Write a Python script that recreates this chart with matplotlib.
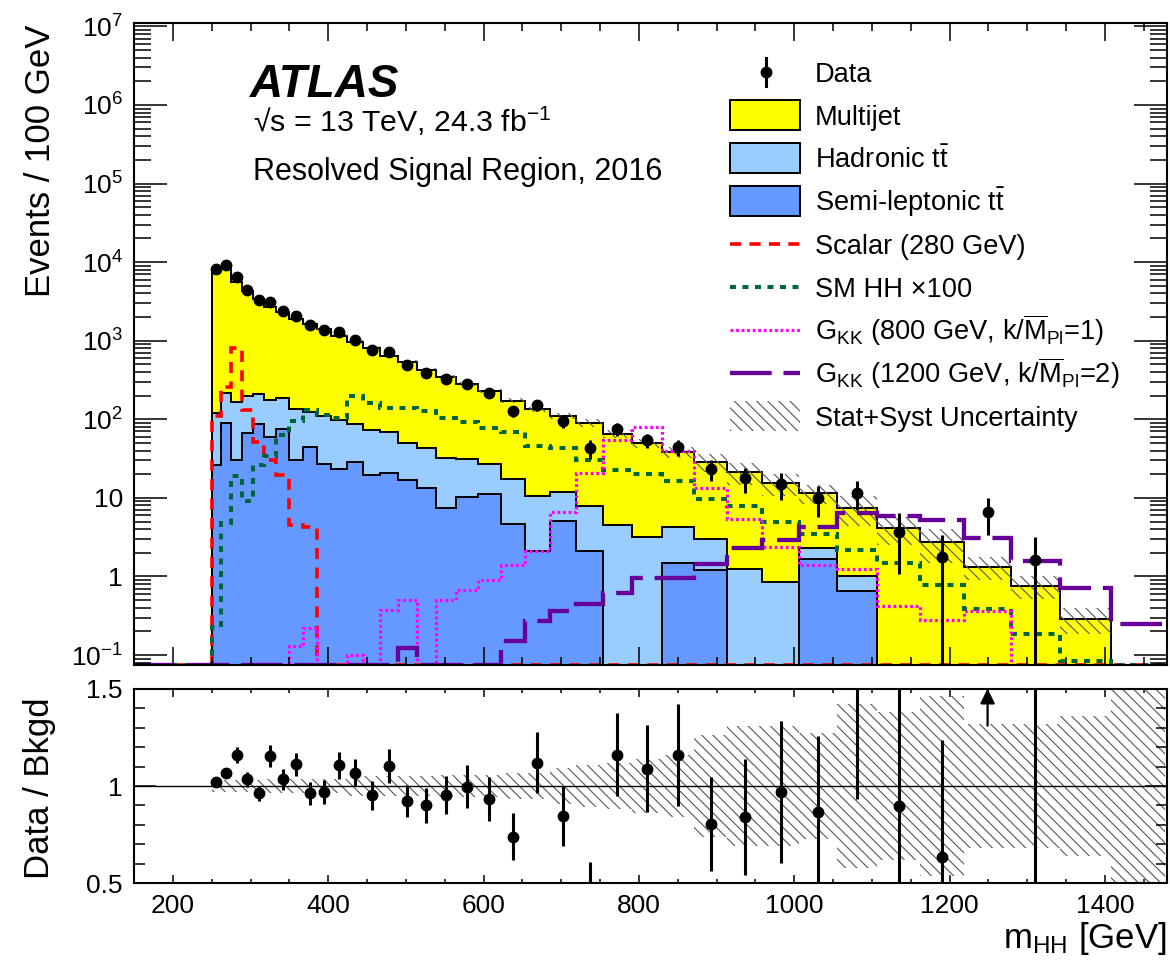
import matplotlib
matplotlib.use("Agg")
import matplotlib.pyplot as plt
import numpy as np
from matplotlib.lines import Line2D
from matplotlib.patches import Rectangle
from matplotlib.ticker import (FixedLocator, FixedFormatter, FuncFormatter,
                               LogLocator, MultipleLocator, NullFormatter)

plt.rcParams['font.family'] = ['Liberation Sans', 'DejaVu Sans']
plt.rcParams['mathtext.fontset'] = 'custom'
plt.rcParams['mathtext.rm'] = 'Liberation Sans'
plt.rcParams['mathtext.it'] = 'Liberation Sans:italic'
plt.rcParams['mathtext.bf'] = 'Liberation Sans:bold'
plt.rcParams['lines.scale_dashes'] = False
plt.rcParams['hatch.linewidth'] = 0.85

# ---- data ----
bin_edges = [250, 262, 275, 289, 303, 318, 333, 350, 367, 385, 404, 424, 445, 467,
             490, 514, 539, 565, 593, 622, 653, 685, 719, 754, 791, 830, 871, 914,
             959, 1006, 1055, 1107, 1162, 1219, 1279, 1342, 1408, 1477]

data = [8150, 9250, 6560, 4450, 3310, 3100, 2400, 2090, 1590, 1376, 1287, 1026,
        766, 708, 493, 387, 327, 280, 215, 128, 150, 94, 43, 76, 54, 44, 23.3,
        17.7, 14.9, 9.9, 11.5, 3.67, 1.75, 6.7, 1.6]
data_err_lo = [160, 173, 227, 172, 138, 148, 128, 113, 99, 85, 81, 67, 60, 55, 44,
               39, 34, 31, 26, 21, 21, 17, 12, 14, 11, 10, 7, 6.3, 5.6, 4.2, 4.5,
               2.6, 1.75, 3.3, 1.6]
data_err_hi = [160, 173, 227, 172, 138, 148, 128, 113, 99, 85, 81, 67, 60, 55, 44,
               39, 34, 31, 26, 21, 21, 17, 12, 14, 11, 10, 7, 6.3, 5.6, 4.4, 4.7,
               2.7, 1.65, 3.3, 1.6]

multijet = [7870, 8431, 5501, 4109, 3229, 2509, 2137, 1746, 1528, 1311, 1065, 873,
            733, 574, 484, 387.5, 311, 250, 203, 155.7, 123.3, 99.1, 82.1, 61,
            46.4, 33.8, 26, 19.8, 14.5, 9.1, 6.5, 4.1, 2.75, 1.32, 0.76, 0.29, 0]
hadronic_tt = [93.6, 129.5, 133.4, 128.4, 123.2, 117.7, 108.3, 104.4, 80.7, 81.9,
               75.8, 58.8, 52.5, 47, 33, 29.3, 24.5, 20.6, 15.7, 12.7, 8.6, 6.8,
               5.8, 4.5, 3.15, 2.72, 1.78, 1.24, 0.84, 0.64, 0.34, 0, 0, 0, 0, 0, 0]
semilep_tt = [26.4, 89.5, 30.6, 66.6, 87.8, 59.3, 75.7, 30.6, 44.3, 27.1, 23.2,
              28.2, 19.5, 21, 17, 13.2, 7.5, 10.4, 11.3, 4.6, 2.1, 5.1, 2.1, 0, 0,
              1.48, 1.22, 0, 0, 1.66, 0.66, 0, 0, 0, 0, 0, 0]
bkg_rel_unc = [0.03, 0.03, 0.03, 0.03, 0.03, 0.035, 0.035, 0.035, 0.035, 0.035,
               0.035, 0.05, 0.05, 0.05, 0.05, 0.05, 0.055, 0.055, 0.055, 0.065,
               0.065, 0.09, 0.11, 0.12, 0.14, 0.16, 0.26, 0.31, 0.31, 0.27, 0.42,
               0.38, 0.46, 0.32, 0.32, 0.36, 1.0]

scalar_280 = [109, 261, 805, 132, 52, 30.5, 19.3, 4.5, 4.3, 0, 0, 0, 0, 0, 0, 0, 0,
              0, 0, 0, 0, 0, 0, 0, 0, 0, 0, 0, 0, 0, 0, 0, 0, 0, 0, 0, 0]
sm_hh_x100 = [0.23, 4.8, 18.7, 9.0, 26.4, 33.7, 63, 94, 132, 114, 103, 195, 161,
              139, 139, 126, 103, 91, 77, 68, 46, 43, 30.5, 22.8, 20.3, 16.2, 9.7,
              7.9, 5.0, 3.5, 2.2, 1.5, 0.77, 0.38, 0.185, 0.083, 0]
gkk_800 = [0, 0, 0, 0, 0, 0, 0, 0.129, 0.22, 0, 0, 0.1, 0, 0.377, 0.506, 0, 0.506,
           0.68, 0.89, 1.41, 2.08, 6.7, 20.7, 55, 80, 39, 13.3, 5.4, 2.4, 1.4,
           1.23, 0.42, 0.28, 0.36, 0, 0, 0]
gkk_1200 = [0, 0, 0, 0, 0, 0, 0, 0, 0, 0, 0, 0, 0, 0, 0.123, 0, 0, 0, 0, 0.149,
            0.267, 0.36, 0.45, 0.62, 0.955, 0.955, 1.44, 2.3, 2.93, 4.2, 6.4, 5.8,
            5.3, 3.1, 1.55, 0.71, 0.25]

legend_labels = ['Data', 'Multijet', r'Hadronic $\mathrm{t\bar{t}}$',
                 r'Semi-leptonic $\mathrm{t\bar{t}}$', 'Scalar (280 GeV)',
                 'SM HH \u00d7100',
                 r'G$_{\mathrm{KK}}$ (800 GeV, k/$\overline{\mathrm{M}}_{\mathrm{Pl}}$=1)',
                 r'G$_{\mathrm{KK}}$ (1200 GeV, k/$\overline{\mathrm{M}}_{\mathrm{Pl}}$=2)',
                 'Stat+Syst Uncertainty']

# ---- styles ----
C_MJ, C_HAD, C_SEMI = '#ffff00', '#99ccff', '#6699ff'
C_HATCH = '#5e5e5e'
X_MIN, X_MAX = 150, 1480
Y_MIN, Y_MAX = 0.0746, 1.115e7
FLOOR = 1e-3
sig_styles = [
    (scalar_280, dict(color='#ff0000', lw=2.6, linestyle=(0, (8, 6)))),
    (sm_hh_x100, dict(color='#00663a', lw=2.9, linestyle=(0, (4.3, 4.7)))),
    (gkk_800, dict(color='#ff00ff', lw=2.3, linestyle=(0, (2, 2)))),
    (gkk_1200, dict(color='#660099', lw=3.1, linestyle=(0, (30, 8.5)))),
]

W, H = 1170, 966
fig = plt.figure(figsize=(W / 100, H / 100), dpi=100)


def box(l, t, r, b):
    return [l / W, 1 - b / H, (r - l) / W, (b - t) / H]


def fx(px):
    return px / W


def fy(py):
    return 1 - py / H


ax = fig.add_axes(box(134, 22.7, 1167, 665))
axr = fig.add_axes(box(134, 688.7, 1167, 883.3), sharex=ax)

edges = np.array(bin_edges, float)
semi = np.array(semilep_tt, float)
had = np.array(hadronic_tt, float)
mj = np.array(multijet, float)
lvl1 = semi
lvl2 = semi + had
total = lvl2 + mj
rel = np.array(bkg_rel_unc, float)


def pos(a):
    return np.clip(a, FLOOR, None)


# stacked backgrounds
for low, high, col in [(np.zeros_like(semi), lvl1, C_SEMI), (lvl1, lvl2, C_HAD),
                       (lvl2, total, C_MJ)]:
    ax.stairs(pos(high), edges, baseline=pos(low), fill=True, color=col, lw=0)
for level in (lvl1, lvl2, total):
    ax.stairs(pos(level), edges, baseline=FLOOR, color='black', lw=1.4)

# uncertainty band
ax.stairs(pos(total * (1 + rel)), edges, baseline=pos(total * (1 - rel)), fill=True,
          facecolor='none', edgecolor=C_HATCH, hatch='\\\\\\', lw=0)

# signals, drawn over the full x range (empty bins sit on the frame)
sig_edges = np.concatenate([[X_MIN], edges])
for vals, st in sig_styles:
    v = np.clip(np.concatenate([[0], vals]), Y_MIN * 1.01, None)
    ax.stairs(v, sig_edges, baseline=None, **st)

# data
n = len(data)
centers = 0.5 * (edges[:-1] + edges[1:])[:n]
d = np.array(data, float)
elo = np.minimum(np.array(data_err_lo, float), d - FLOOR)
ehi = np.array(data_err_hi, float)
ax.errorbar(centers, d, yerr=[elo, ehi], fmt='o', color='black', ms=7.5,
            elinewidth=2.2, capsize=0, zorder=5)

ax.set_yscale('log')
ax.set_xlim(X_MIN, X_MAX)
ax.set_ylim(Y_MIN, Y_MAX)


def log_fmt(v, _):
    e = int(round(np.log10(v)))
    if e == 0:
        return '1'
    if e == 1:
        return '10'
    return r'$10^{%d}$' % e


ax.yaxis.set_major_locator(LogLocator(base=10, numticks=20))
ax.yaxis.set_major_formatter(FuncFormatter(log_fmt))
ax.yaxis.set_minor_locator(LogLocator(base=10, subs=np.arange(2, 10), numticks=20))
ax.yaxis.set_minor_formatter(NullFormatter())
ax.xaxis.set_major_locator(MultipleLocator(200))
ax.xaxis.set_minor_locator(MultipleLocator(50))
ax.tick_params(which='both', direction='in', top=True, right=True,
               labelbottom=False, labelsize=19, width=1.1, pad=8)
ax.tick_params(axis='x', which='major', length=13)
ax.tick_params(axis='x', which='minor', length=6)
ax.tick_params(axis='y', which='major', length=24)
ax.tick_params(axis='y', which='minor', length=12.5)

# ---- ratio panel ----
ratio = d / total[:n]
rlo = elo / total[:n]
rhi = ehi / total[:n]
axr.stairs(1 + rel, edges, baseline=1 - rel, fill=True, facecolor='none',
           edgecolor=C_HATCH, hatch='\\\\\\', lw=0)
axr.axhline(1, color='black', lw=1.0)
axr.errorbar(centers, ratio, yerr=[rlo, rhi], fmt='o', color='black', ms=7.5,
             elinewidth=2.2, capsize=0, zorder=5)
R_MIN, R_MAX = 0.5, 1.5
for xc, r, lo in zip(centers, ratio, rlo):
    if r - lo > R_MAX:
        axr.annotate('', xy=(xc, R_MAX), xytext=(xc, 1.31),
                     arrowprops=dict(arrowstyle='-|>', color='black', lw=1.6,
                                     mutation_scale=22, shrinkA=0, shrinkB=0))
axr.set_ylim(R_MIN, R_MAX)
axr.set_xlim(X_MIN, X_MAX)
axr.yaxis.set_major_locator(FixedLocator([0.5, 1.0, 1.5]))
axr.yaxis.set_major_formatter(FixedFormatter(['0.5', '1', '1.5']))
axr.yaxis.set_minor_locator(MultipleLocator(0.1))
axr.tick_params(which='both', direction='in', top=True, right=True,
                labelsize=19, width=1.1, pad=8)
axr.tick_params(axis='x', which='major', length=5.5)
axr.tick_params(axis='x', which='minor', length=3)
axr.tick_params(axis='y', which='major', length=16)
axr.tick_params(axis='y', which='minor', length=8)

for a in (ax, axr):
    for s in a.spines.values():
        s.set_linewidth(1.5)

# ---- labels and texts ----
fig.text(fx(40), fy(25), 'Events / 100 GeV', rotation=90, ha='center', va='top',
         fontsize=25)
fig.text(fx(40), fy(788), 'Data / Bkgd', rotation=90, ha='center', va='center',
         fontsize=25)
fig.text(fx(1166), fy(948), r'm$_{\mathrm{HH}}$ [GeV]', ha='right', va='baseline',
         fontsize=25)
fig.text(fx(250), fy(97), 'ATLAS', fontsize=33, fontweight='bold',
         fontstyle='italic', va='baseline')
fig.text(fx(253), fy(131.5), '\u221as = 13 TeV, 24.3 fb$^{-1}$', fontsize=21.8,
         va='baseline')
fig.text(fx(253), fy(180), 'Resolved Signal Region, 2016', fontsize=22,
         va='baseline')

# ---- legend (drawn by hand, ROOT style) ----
LX0, LX1, LTX = 730, 800, 815
LY0, LDY = 72, 43.05
for i, lab in enumerate(legend_labels):
    yc = LY0 + i * LDY
    if i == 0:
        fig.add_artist(Line2D([fx(766)] * 2, [fy(yc - 14), fy(yc + 14)], color='black',
                              lw=2.2, transform=fig.transFigure))
        fig.add_artist(Line2D([fx(766)], [fy(yc)], marker='o', ms=7.5, color='black',
                              transform=fig.transFigure))
    elif i in (1, 2, 3):
        col = [C_MJ, C_HAD, C_SEMI][i - 1]
        fig.add_artist(Rectangle((fx(LX0), fy(yc + 15)), (LX1 - LX0) / W, 30 / H,
                                 facecolor=col, edgecolor='black', lw=1.4,
                                 transform=fig.transFigure))
    elif i in (4, 5, 6, 7):
        st = sig_styles[i - 4][1]
        fig.add_artist(Line2D([fx(LX0), fx(LX1)], [fy(yc)] * 2,
                              transform=fig.transFigure, **st))
    else:
        fig.add_artist(Rectangle((fx(LX0), fy(yc + 15)), (LX1 - LX0) / W, 30 / H,
                                 facecolor='none', edgecolor=C_HATCH, hatch='\\\\\\',
                                 lw=0, transform=fig.transFigure))
    fig.text(fx(LTX), fy(yc + 9.5), lab, fontsize=19.6, va='baseline')

fig.savefig('out.png', dpi=100)
